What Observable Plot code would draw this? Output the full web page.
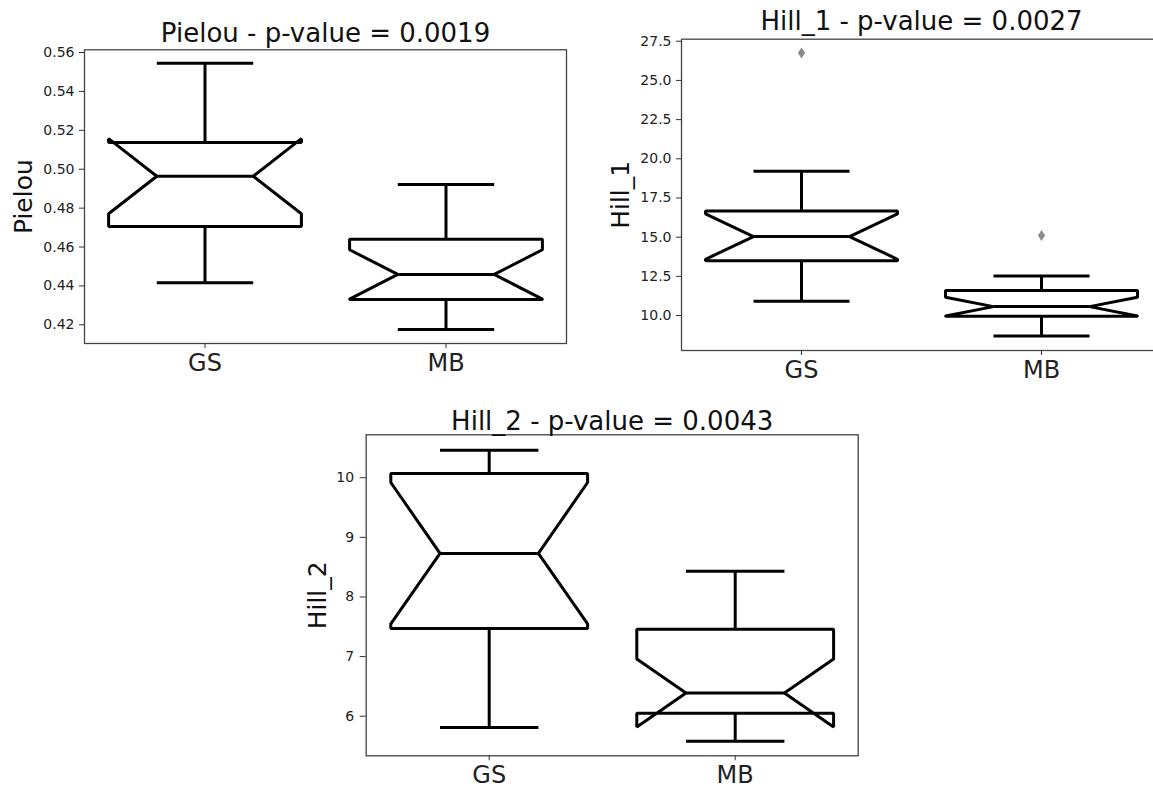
<!DOCTYPE html>
<html><head><meta charset="utf-8">
<script src="https://cdn.jsdelivr.net/npm/d3@7"></script>
<script src="https://cdn.jsdelivr.net/npm/@observablehq/plot@0.6"></script>
<style>
html,body{margin:0;padding:0;background:#fff;overflow:hidden;width:1153px;height:789px;}
#root{position:relative;width:1153px;height:789px;overflow:hidden;}
.panel{position:absolute;}
.panel svg{font-family:"DejaVu Sans",sans-serif;overflow:visible;max-width:none !important;display:block;}
</style></head><body><div id="root"></div>
<script>
const categories = ["GS", "MB"];

// Pielou
const pielouTitle = "Pielou - p-value = 0.0019";
const pielouLabel = "Pielou";
const pielouWhiskerLow = [0.4416, 0.4176];
const pielouQ1 = [0.4705, 0.4330];
const pielouMedian = [0.4964, 0.4459];
const pielouQ3 = [0.5137, 0.4640];
const pielouWhiskerHigh = [0.5545, 0.4921];
const pielouNotchLow = [0.4771, 0.4332];
const pielouNotchHigh = [0.5157, 0.4586];
const pielouOutliers = [[], []];
const pielouTicks = [0.42, 0.44, 0.46, 0.48, 0.50, 0.52, 0.54, 0.56];
const pielouDomain = [0.4104, 0.5614];

// Hill_1
const hill1Title = "Hill_1 - p-value = 0.0027";
const hill1Label = "Hill_1";
const hill1WhiskerLow = [10.91, 8.70];
const hill1Q1 = [13.50, 9.96];
const hill1Median = [15.04, 10.57];
const hill1Q3 = [16.67, 11.59];
const hill1WhiskerHigh = [19.20, 12.53];
const hill1NotchLow = [13.59, 9.97];
const hill1NotchHigh = [16.49, 11.17];
const hill1Outliers = [[26.75], [15.10]];
const hill1Ticks = [10.0, 12.5, 15.0, 17.5, 20.0, 22.5, 25.0, 27.5];
const hill1Domain = [7.77, 27.63];

// Hill_2
const hill2Title = "Hill_2 - p-value = 0.0043";
const hill2Label = "Hill_2";
const hill2WhiskerLow = [5.81, 5.58];
const hill2Q1 = [7.47, 6.05];
const hill2Median = [8.73, 6.39];
const hill2Q3 = [10.07, 7.46];
const hill2WhiskerHigh = [10.46, 8.43];
const hill2NotchLow = [7.55, 5.82];
const hill2NotchHigh = [9.92, 6.96];
const hill2Outliers = [[], []];
const hill2Ticks = [6, 7, 8, 9, 10];
const hill2Domain = [5.336, 10.72];

const thinDiamond = {
  draw(ctx) {
    ctx.moveTo(0, -5.5);
    ctx.lineTo(3.6, 0);
    ctx.lineTo(0, 5.5);
    ctx.lineTo(-3.6, 0);
    ctx.closePath();
  }
};

function makePanel(o) {
  const W = 0.4, N = 0.2;
  const stats = categories.map((c, i) => ({
    cat: c, i,
    wl: o.wl[i], q1: o.q1[i], med: o.med[i], q3: o.q3[i], wh: o.wh[i],
    nl: o.nl[i], nh: o.nh[i]
  }));
  const poly = [];
  for (const s of stats) {
    const x = s.i;
    const pts = [
      [x - W, s.q1], [x + W, s.q1], [x + W, s.nl], [x + N, s.med], [x + W, s.nh],
      [x + W, s.q3], [x - W, s.q3], [x - W, s.nh], [x - N, s.med], [x - W, s.nl]
    ];
    for (const [px, py] of pts) poly.push({cat: s.cat, x: px, y: py});
  }
  const outs = [];
  o.out.forEach((arr, i) => arr.forEach(v => outs.push({i, v})));
  const lw = 3;
  return Plot.plot({
    width: o.width, height: o.height,
    marginLeft: o.ml, marginRight: o.mr, marginTop: o.mt, marginBottom: o.mb,
    style: {fontFamily: "DejaVu Sans, sans-serif", color: "#222", background: "transparent", overflow: "visible", maxWidth: "none"},
    x: {type: "linear", domain: [-0.5, 1.5]},
    y: {domain: o.domain},
    marks: [
      Plot.frame({stroke: "#444", strokeWidth: 1.3}),
      Plot.link(stats, {x1: "i", x2: "i", y1: "q3", y2: "wh", stroke: "black", strokeWidth: lw}),
      Plot.link(stats, {x1: "i", x2: "i", y1: "q1", y2: "wl", stroke: "black", strokeWidth: lw}),
      Plot.link(stats, {x1: d => d.i - N, x2: d => d.i + N, y1: "wh", y2: "wh", stroke: "black", strokeWidth: lw}),
      Plot.link(stats, {x1: d => d.i - N, x2: d => d.i + N, y1: "wl", y2: "wl", stroke: "black", strokeWidth: lw}),
      Plot.line(poly, {x: "x", y: "y", z: "cat", curve: "linear-closed", stroke: "black", strokeWidth: lw, strokeLinejoin: "miter"}),
      Plot.link(stats, {x1: d => d.i - N, x2: d => d.i + N, y1: "med", y2: "med", stroke: "black", strokeWidth: lw}),
      Plot.dot(outs, {x: "i", y: "v", symbol: thinDiamond, fill: "#8c8c8c", stroke: "none"}),
      Plot.axisY({ticks: o.ticks, tickFormat: o.fmt, tickSize: o.tsy, tickPadding: o.tpy, fontSize: 14, label: null, stroke: "#333"}),
      Plot.axisX({ticks: [0, 1], tickFormat: i => categories[i], tickSize: 5, tickPadding: o.tpx, fontSize: 24, label: null, stroke: "#333"}),
      Plot.text([o.title], {frameAnchor: "top", lineAnchor: "bottom", dy: o.tdy, fontSize: 26, fill: "#111"}),
      Plot.text([o.label], {frameAnchor: "left", rotate: -90, dx: o.ldx, textAnchor: "middle", lineAnchor: "middle", fontSize: 25, fill: "#111"})
    ]
  });
}

const root = document.getElementById("root");
function place(el, left, top, w, h) {
  const d = document.createElement("div");
  d.className = "panel";
  d.style.left = left + "px";
  d.style.top = top + "px";
  d.style.width = w + "px";
  d.style.height = h + "px";
  d.appendChild(el);
  root.appendChild(d);
}

place(makePanel({
  title: pielouTitle, label: pielouLabel,
  wl: pielouWhiskerLow, q1: pielouQ1, med: pielouMedian, q3: pielouQ3, wh: pielouWhiskerHigh,
  nl: pielouNotchLow, nh: pielouNotchHigh, out: pielouOutliers,
  ticks: pielouTicks, fmt: d3.format(".2f"), domain: pielouDomain,
  width: 580, height: 385, ml: 84, mr: 14, mt: 49.3, mb: 42,
  tsy: 5, tpy: 5, tpx: 5, tdy: -7.6, ldx: -61
}), 0, 0, 580, 385);

place(makePanel({
  title: hill1Title, label: hill1Label,
  wl: hill1WhiskerLow, q1: hill1Q1, med: hill1Median, q3: hill1Q3, wh: hill1WhiskerHigh,
  nl: hill1NotchLow, nh: hill1NotchHigh, out: hill1Outliers,
  ticks: hill1Ticks, fmt: d3.format(".1f"), domain: hill1Domain,
  width: 600, height: 395, ml: 101, mr: 19, mt: 38.7, mb: 45,
  tsy: 5, tpy: 5, tpx: 5, tdy: -9.4, ldx: -61
}), 580, 0, 600, 395);

place(makePanel({
  title: hill2Title, label: hill2Label,
  wl: hill2WhiskerLow, q1: hill2Q1, med: hill2Median, q3: hill2Q3, wh: hill2WhiskerHigh,
  nl: hill2NotchLow, nh: hill2NotchHigh, out: hill2Outliers,
  ticks: hill2Ticks, fmt: d3.format("d"), domain: hill2Domain,
  width: 590, height: 399, ml: 75.7, mr: 22.3, mt: 44.3, mb: 33.7,
  tsy: 6, tpy: 6, tpx: 5, tdy: -4.5, ldx: -48
}), 290, 390, 590, 399);
</script>
</body></html>
